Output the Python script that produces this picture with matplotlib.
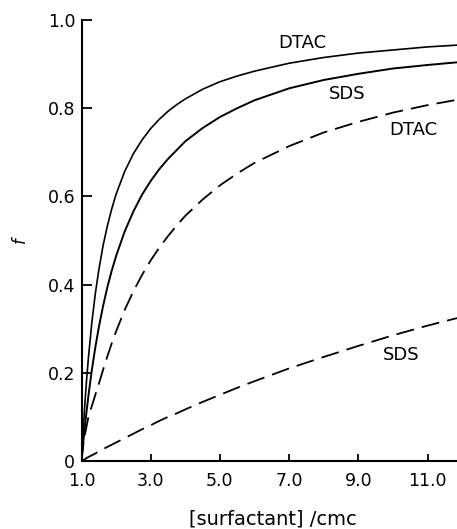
import matplotlib
matplotlib.use("Agg")
import matplotlib.pyplot as plt

# concentration in units of cmc
conc = [1.0, 1.025, 1.05, 1.1, 1.15, 1.2, 1.3, 1.4, 1.5, 1.625, 1.75, 1.875,
        2.0, 2.25, 2.5, 2.75, 3.0, 3.25, 3.5, 3.75, 4.0, 4.5, 5.0, 5.5, 6.0,
        7.0, 8.0, 9.0, 10.0, 11.0, 11.85]

dtac_solid = [0.0, 0.037, 0.071, 0.133, 0.187, 0.234, 0.315, 0.380, 0.433, 0.489,
              0.534, 0.572, 0.605, 0.657, 0.697, 0.728, 0.754, 0.775, 0.793, 0.808,
              0.821, 0.843, 0.860, 0.873, 0.884, 0.902, 0.915, 0.925, 0.932, 0.939, 0.943]
sds_solid = [0.0, 0.021, 0.042, 0.080, 0.115, 0.148, 0.207, 0.258, 0.303, 0.352,
             0.395, 0.432, 0.465, 0.521, 0.566, 0.604, 0.635, 0.662, 0.685, 0.705,
             0.725, 0.755, 0.780, 0.800, 0.818, 0.845, 0.864, 0.878, 0.890, 0.898, 0.904]
dtac_dashed = [0.0, 0.018, 0.035, 0.060, 0.080, 0.100, 0.125, 0.150, 0.175, 0.207,
               0.238, 0.267, 0.294, 0.343, 0.385, 0.422, 0.455, 0.484, 0.510, 0.534,
               0.556, 0.593, 0.625, 0.652, 0.676, 0.714, 0.745, 0.769, 0.790, 0.807, 0.819]
sds_dashed = [0.0, 0.001, 0.002, 0.004, 0.007, 0.009, 0.013, 0.017, 0.022, 0.027,
              0.032, 0.037, 0.042, 0.052, 0.062, 0.072, 0.081, 0.091, 0.100, 0.108,
              0.117, 0.134, 0.150, 0.166, 0.181, 0.210, 0.236, 0.261, 0.285, 0.307, 0.324]

x_ticks = [1.0, 3.0, 5.0, 7.0, 9.0, 11.0]
x_ticklabels = ["1.0", "3.0", "5.0", "7.0", "9.0", "11.0"]
y_ticks = [0.0, 0.2, 0.4, 0.6, 0.8, 1.0]
y_ticklabels = ["0", "0.2", "0.4", "0.6", "0.8", "1.0"]

labels = [("DTAC", 7.37, 0.948), ("SDS", 8.67, 0.832),
          ("DTAC", 10.58, 0.75), ("SDS", 10.23, 0.24)]

W, H = 457, 529
fig = plt.figure(figsize=(W / 100, H / 100), dpi=100)
ax = fig.add_axes([81.5 / W, (H - 461) / H, (W - 81.5) / W, 441 / H])

lw = 1.2
ax.plot(conc, dtac_solid, color="black", lw=lw)
ax.plot(conc, sds_solid, color="black", lw=lw + 0.2)
ax.plot(conc, dtac_dashed, color="black", lw=lw + 0.1, dashes=(10, 4.5))
ax.plot(conc, sds_dashed, color="black", lw=lw + 0.1, dashes=(10, 4.5))

for txt, xx, yy in labels:
    ax.text(xx, yy, txt, fontsize=13, ha="center", va="center")

ax.set_xlim(1.0, 11.85)
ax.set_ylim(0.0, 1.0)
ax.spines["top"].set_visible(False)
ax.spines["right"].set_visible(False)
for s in ["left", "bottom"]:
    ax.spines[s].set_linewidth(1.5)

ax.set_xticks(x_ticks)
ax.set_xticklabels(x_ticklabels)
ax.set_yticks(y_ticks)
ax.set_yticklabels(y_ticklabels)
ax.tick_params(axis="x", direction="in", length=5, width=1.3, labelsize=12.5, pad=8)
ax.tick_params(axis="y", direction="in", length=7, width=1.3, labelsize=12.5, pad=4.5)

fig.text(273 / W, 1 - 519 / H, "[surfactant] /cmc", fontsize=14,
         ha="center", va="center")
fig.text(20 / W, 1 - 240 / H, "f", fontsize=12, style="italic",
         rotation=90, ha="center", va="center")

fig.savefig("out.png", dpi=100)
